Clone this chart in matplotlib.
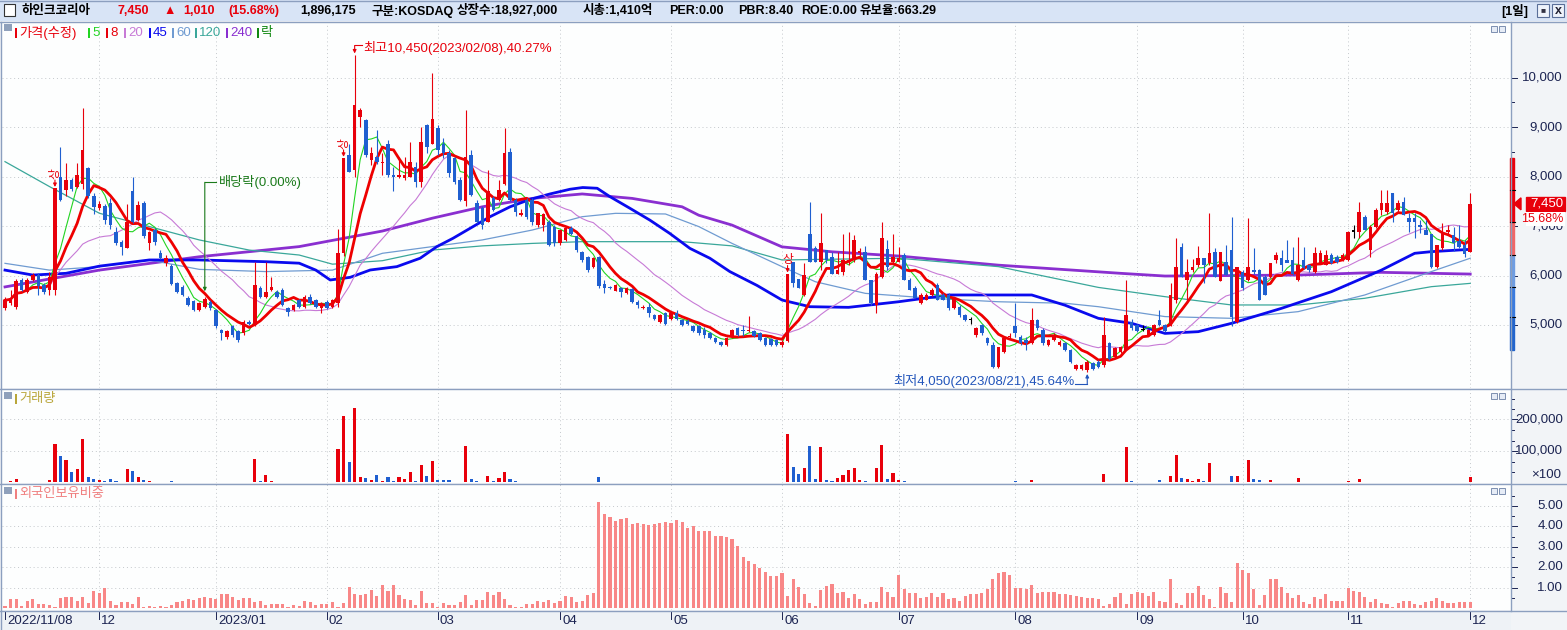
import numpy as np
import pandas as pd
import matplotlib
matplotlib.use("Agg")
import matplotlib.pyplot as plt
import matplotlib.transforms as mtransforms
from matplotlib.patches import Rectangle, Polygon
from matplotlib.lines import Line2D

plt.rcParams['font.family'] = ['Liberation Sans', 'Noto Sans CJK KR', 'DejaVu Sans']

# ---- daily candles, 2022/11/08 .. 2023/12/01 ----
opens = [
    5340, 5440, 5370, 5900, 5670, 5910, 6010, 5810, 5710, 5700,
    8000, 7730, 7930, 7800, 7860, 8170, 7600, 7360, 7400, 7460,
    6890, 6680, 6550, 7710, 7120, 7460, 6650, 6920, 6450, 6250,
    6200, 5840, 5770, 5540, 5490, 5300, 5370, 5460, 5300, 4900,
    4760, 4970, 4870, 4830, 5070, 5000, 5740, 5570, 5700, 5670,
    5710, 5340, 5300, 5500, 5370, 5570, 5500, 5340, 5470, 5370,
    5440, 6450, 8440, 8130, 9200, 9150, 8340, 8400, 8270, 8670,
    8030, 8000, 7970, 8000, 8200, 7900, 9040, 8670, 8980, 8670,
    8470, 8370, 7930, 7500, 8440, 7460, 7360, 7090, 7560, 7530,
    7860, 8500, 7530, 7220, 7530, 7530, 7020, 7020, 7090, 6990,
    6650, 6720, 6960, 6790, 6480, 6380, 6180, 6380, 5830, 5760,
    5690, 5740, 5640, 5730, 5470, 5340, 5370, 5200, 5070, 5240,
    5130, 5240, 5100, 5080, 4970, 4970, 4900, 4830, 4730, 4660,
    4600, 4760, 4930, 4900, 4870, 4870, 4830, 4730, 4710, 4700,
    4600, 4680, 6280, 5940, 5610, 6850, 6550, 6280, 6520, 6380,
    6040, 6080, 6280, 6310, 6450, 6480, 5910, 5400, 5980, 6530,
    6280, 6280, 6420, 5910, 5740, 5450, 5510, 5610, 5810, 5610,
    5610, 5340, 5370, 5200, 5100, 4800, 5000, 4730, 4600, 4160,
    4460, 4750, 4970, 4760, 4700, 4630, 5100, 4900, 4600, 4700,
    4600, 4630, 4490, 4120, 4120, 4100, 4230, 4260, 4190, 4630,
    4360, 4460, 4500, 5070, 5000, 4900, 4800, 4800, 5100, 5000,
    5000, 5510, 6580, 5910, 6110, 6210, 6350, 6250, 6480, 5880,
    6280, 6520, 5070, 6080, 5910, 6110, 6110, 5980, 5980, 6310,
    6350, 6310, 6310, 5910, 6310, 6210, 6080, 6250, 6210, 6420,
    6380, 6310, 6310, 6890, 6890, 7190, 6520, 6990, 7330, 7290,
    7660, 7330, 7490, 7160, 7160, 7020, 6920, 6850, 6180, 6550,
    6890, 6820, 6690, 6620, 6480,
]
highs = [
    5570, 5700, 5930, 5950, 5950, 6050, 6050, 5850, 6080, 7770,
    8600, 8270, 7980, 8270, 9380, 8200, 7660, 7500, 7450, 7560,
    6990, 6720, 7440, 8000, 7500, 7500, 6900, 6960, 6520, 6420,
    6230, 5870, 5800, 5580, 5510, 5460, 5560, 5500, 5320, 4920,
    4900, 5000, 4890, 5100, 5100, 6280, 5780, 6280, 5970, 5700,
    5740, 5360, 5420, 5520, 5600, 5620, 5520, 5460, 5500, 5520,
    6950, 8380, 8670, 10450, 9380, 9170, 8600, 8950, 8480, 8740,
    8200, 8400, 8400, 8700, 8300, 9000, 9070, 10090, 9040, 8780,
    8540, 8400, 8000, 9350, 8540, 7530, 7400, 8130, 7600, 7930,
    8980, 8570, 7560, 7350, 7560, 7560, 7260, 7260, 7120, 7020,
    6920, 6990, 7000, 6820, 6500, 6400, 6380, 6400, 5910, 5790,
    5820, 5770, 5760, 5750, 5500, 5400, 5440, 5220, 5220, 5260,
    5260, 5300, 5120, 5120, 4990, 4990, 4960, 4850, 4760, 4680,
    4760, 4920, 4960, 5000, 5180, 4900, 4850, 4750, 4730, 4720,
    4700, 6040, 6280, 5940, 6250, 7490, 6600, 7260, 6520, 6480,
    6480, 6850, 6880, 6820, 6550, 6590, 5910, 6070, 7090, 6720,
    6850, 6580, 6450, 5950, 5780, 5640, 5640, 5740, 5840, 5640,
    5640, 5570, 5400, 5230, 5170, 4960, 5030, 4760, 4660, 4560,
    4760, 4830, 5440, 4790, 4760, 5340, 5130, 4930, 4720, 4840,
    4700, 4660, 4510, 4210, 4210, 4300, 4260, 4290, 5170, 4650,
    4560, 4580, 5910, 5130, 5030, 5000, 4920, 5030, 5300, 5020,
    5840, 6750, 6650, 6330, 6330, 6600, 6350, 7260, 6550, 6480,
    6620, 7190, 6180, 6110, 7160, 6550, 6140, 6010, 6250, 6480,
    6520, 6720, 6580, 6780, 6580, 6240, 6580, 6520, 6520, 6450,
    6410, 6450, 6900, 7020, 7490, 7220, 7020, 7370, 7730, 7730,
    7660, 7530, 7590, 7260, 7260, 7120, 7120, 6850, 6620, 7060,
    7020, 6990, 7020, 6720, 7660,
]
lows = [
    5300, 5400, 5330, 5690, 5640, 5880, 5600, 5620, 5600, 5600,
    7500, 7600, 7700, 7780, 7740, 7560, 7240, 7330, 7050, 6950,
    6620, 6420, 6550, 7060, 7100, 6760, 6520, 6610, 6330, 6200,
    5800, 5640, 5580, 5380, 5280, 5280, 5350, 5300, 4940, 4700,
    4720, 4760, 4660, 4800, 5000, 4980, 5540, 5540, 5680, 5540,
    5380, 5180, 5280, 5340, 5350, 5420, 5350, 5240, 5320, 5350,
    5370, 6400, 8100, 8000, 9000, 8400, 8240, 8250, 8030, 8000,
    7700, 7980, 7940, 8000, 7800, 7800, 8470, 8670, 8440, 8370,
    8000, 7850, 7500, 7400, 7600, 7060, 6950, 7090, 7300, 7500,
    7840, 7500, 7200, 7200, 7150, 7030, 6980, 6900, 6600, 6600,
    6620, 6700, 6820, 6480, 6280, 6080, 6150, 5750, 5640, 5720,
    5680, 5570, 5630, 5450, 5340, 5330, 5170, 5110, 5050, 5010,
    5100, 5110, 4980, 5010, 4850, 4800, 4740, 4710, 4640, 4580,
    4580, 4740, 4770, 4780, 4860, 4760, 4680, 4580, 4580, 4580,
    4560, 4650, 5760, 5740, 5580, 6280, 6280, 6110, 6250, 6040,
    6030, 6010, 6210, 6280, 6400, 5910, 5400, 5240, 5950, 6110,
    6250, 6280, 5910, 5710, 5540, 5420, 5500, 5590, 5510, 5500,
    5300, 5320, 5170, 5080, 5030, 4760, 4800, 4600, 4130, 4130,
    4440, 4730, 4760, 4600, 4500, 4620, 4900, 4600, 4580, 4680,
    4580, 4470, 4240, 4080, 4100, 4050, 4090, 4140, 4150, 4290,
    4340, 4440, 4490, 4900, 4850, 4870, 4780, 4780, 4970, 4850,
    4970, 5440, 5980, 5440, 6080, 6180, 5850, 6210, 5980, 5880,
    6010, 4970, 5040, 5710, 5880, 6040, 5510, 5610, 5950, 6250,
    6100, 6280, 6010, 5880, 6130, 6080, 6060, 6250, 6210, 6230,
    6260, 6290, 6300, 6760, 6760, 6920, 6380, 6970, 7230, 7250,
    7090, 7260, 7220, 6880, 6750, 6860, 6850, 6150, 6150, 6520,
    6850, 6490, 6550, 6380, 6480,
]
closes = [
    5500, 5540, 5880, 5710, 5910, 6010, 5780, 5670, 5980, 7770,
    7530, 7930, 7760, 8030, 8540, 7600, 7390, 7450, 7120, 7020,
    6650, 6580, 7090, 7090, 7430, 6790, 6890, 6680, 6350, 6350,
    5820, 5660, 5600, 5400, 5300, 5440, 5520, 5340, 4970, 4830,
    4870, 4800, 4700, 5070, 5030, 5810, 5570, 5670, 5770, 5570,
    5400, 5270, 5400, 5370, 5570, 5440, 5370, 5440, 5340, 5500,
    6450, 8380, 8100, 9450, 9350, 8440, 8470, 8300, 8290, 8030,
    8000, 8030, 8030, 8300, 7900, 8700, 8600, 9170, 8540, 8470,
    8080, 7900, 7530, 8400, 7630, 7090, 7020, 7700, 7330, 7730,
    8470, 7530, 7290, 7260, 7190, 7090, 7260, 7250, 6620, 6650,
    6920, 6960, 6850, 6520, 6310, 6110, 6350, 5780, 5740, 5740,
    5800, 5670, 5740, 5470, 5400, 5370, 5240, 5130, 5200, 5030,
    5240, 5130, 5000, 5030, 4870, 4830, 4800, 4730, 4660, 4600,
    4730, 4900, 4800, 4870, 4900, 4780, 4700, 4600, 4600, 4600,
    4650, 6040, 5840, 5740, 6010, 6280, 6280, 6650, 6310, 6040,
    6110, 6310, 6310, 6720, 6500, 5910, 5440, 6040, 6750, 6180,
    6380, 6360, 5910, 5710, 5540, 5610, 5610, 5710, 5510, 5510,
    5340, 5540, 5200, 5100, 5100, 4930, 4830, 4630, 4160, 4560,
    4730, 4780, 4830, 4630, 4630, 5100, 4930, 4630, 4700, 4800,
    4660, 4490, 4260, 4190, 4190, 4260, 4120, 4160, 4800, 4310,
    4530, 4560, 5200, 4930, 4870, 4900, 4900, 5000, 5000, 4870,
    5610, 6180, 5980, 6080, 6180, 6350, 6210, 6450, 5980, 6480,
    6010, 5170, 6180, 5740, 6180, 6080, 5510, 5610, 6250, 6420,
    6210, 6250, 6040, 6210, 6150, 6110, 6450, 6450, 6420, 6250,
    6280, 6420, 6890, 6890, 7290, 6920, 6990, 7330, 7460, 7460,
    7260, 7460, 7220, 7090, 7090, 6990, 6820, 6180, 6620, 6890,
    6920, 6650, 6580, 6440, 7450,
]
volumes = [
    2600, 4700, 11000, 3000, 3000, 3000, 3000, 3000, 8000, 122000,
    84000, 71000, 33000, 43000, 138000, 17000, 11000, 8000, 5000, 11000,
    5000, 3000, 43000, 36000, 17000, 8000, 5000, 3000, 3000, 3000,
    5000, 3000, 3000, 3000, 3000, 3000, 3000, 3000, 3000, 3000,
    3000, 3000, 3000, 3000, 3000, 75000, 5000, 24000, 5000, 3000,
    3000, 3000, 3000, 3000, 3000, 3000, 3000, 3000, 3000, 3000,
    106000, 211000, 65000, 236000, 17000, 14000, 8000, 24000, 5000, 17000,
    5000, 17000, 11000, 33000, 5000, 55000, 20000, 68000, 8000, 8000,
    8000, 3000, 3000, 116000, 11000, 5000, 3000, 20000, 5000, 14000,
    33000, 11000, 5000, 3000, 3000, 3000, 3000, 3000, 3000, 3000,
    3000, 3000, 3000, 3000, 3000, 3000, 3000, 17000, 3000, 3000,
    3000, 3000, 3000, 3000, 3000, 3000, 3000, 3000, 3000, 3000,
    3000, 3000, 3000, 3000, 3000, 3000, 3000, 3000, 3000, 3000,
    3000, 3000, 3000, 3000, 3000, 3000, 3000, 3000, 3000, 3000,
    3000, 154000, 50000, 27000, 47000, 116000, 11000, 114000, 8000, 5000,
    14000, 24000, 40000, 46000, 8000, 5000, 3000, 46000, 119000, 11000,
    30000, 8000, 5000, 3000, 3000, 3000, 3000, 3000, 3000, 3000,
    3000, 3000, 3000, 3000, 3000, 3000, 3000, 3000, 3000, 3000,
    3000, 3000, 5000, 3000, 3000, 8000, 3000, 3000, 3000, 3000,
    3000, 3000, 3000, 3000, 3000, 3000, 3000, 3000, 27000, 3000,
    3000, 3000, 113000, 5000, 3000, 3000, 3000, 3000, 8000, 3000,
    20000, 87000, 13000, 10000, 5000, 11000, 5000, 62000, 3000, 3000,
    3000, 20000, 20000, 3000, 71000, 11000, 8000, 3000, 8000, 3000,
    3000, 3000, 3000, 14000, 3000, 3000, 3000, 3000, 3000, 3000,
    3000, 3000, 5000, 3000, 11000, 3000, 3000, 3000, 3000, 3000,
    3000, 3000, 3000, 3000, 3000, 3000, 3000, 3000, 3000, 3000,
    3000, 3000, 3000, 3000, 17000,
]
foreign_pct = [
    0.11, 0.44, 0.44, 0.11, 0.34, 0.44, 0.20, 0.20, 0.15, 0.05,
    0.50, 0.54, 0.54, 0.34, 0.54, 0.25, 0.82, 0.74, 0.98, 0.34,
    0.15, 0.29, 0.29, 0.20, 0.54, 0.05, 0.10, 0.05, 0.10, 0.05,
    0.15, 0.29, 0.34, 0.44, 0.39, 0.50, 0.54, 0.50, 0.44, 0.69,
    0.69, 0.54, 0.39, 0.50, 0.47, 0.29, 0.34, 0.15, 0.20, 0.20,
    0.20, 0.05, 0.15, 0.10, 0.34, 0.29, 0.15, 0.20, 0.20, 0.29,
    0.03, 0.25, 1.03, 0.69, 0.64, 0.69, 0.88, 0.59, 1.13, 0.83,
    1.13, 0.64, 0.44, 0.39, 0.15, 0.83, 0.25, 0.25, 0.05, 0.25,
    0.15, 0.15, 0.29, 0.64, 0.15, 0.39, 0.39, 0.77, 0.64, 0.77,
    0.44, 0.15, 0.05, 0.05, 0.20, 0.20, 0.34, 0.29, 0.39, 0.25,
    0.34, 0.59, 0.54, 0.29, 0.34, 0.64, 0.72, 5.18, 4.61, 4.46,
    4.26, 4.36, 4.41, 4.12, 4.17, 4.12, 4.07, 4.12, 4.17, 4.22,
    4.17, 4.31, 4.22, 3.92, 4.02, 3.77, 3.77, 3.77, 3.53, 3.53,
    3.48, 3.38, 3.04, 2.50, 2.30, 2.16, 1.96, 1.76, 1.57, 1.57,
    1.70, 0.59, 1.42, 1.03, 0.69, 0.25, 0.10, 0.88, 1.08, 1.18,
    0.74, 0.78, 0.49, 0.69, 0.44, 0.20, 0.29, 0.29, 1.03, 0.78,
    0.54, 1.62, 0.93, 0.74, 0.74, 0.49, 0.54, 0.74, 0.54, 0.74,
    0.44, 0.49, 0.34, 0.59, 0.69, 0.69, 0.74, 0.93, 1.42, 1.70,
    1.75, 1.62, 0.98, 0.98, 0.93, 1.13, 0.74, 0.78, 0.78, 0.78,
    0.69, 0.69, 0.64, 0.59, 0.54, 0.49, 0.47, 0.44, 0.10, 0.20,
    0.54, 0.74, 0.20, 0.69, 0.78, 0.74, 0.59, 0.78, 0.34, 0.29,
    1.42, 0.25, 0.15, 0.74, 0.74, 1.08, 0.64, 0.44, 0.05, 1.03,
    0.74, 0.29, 2.21, 1.86, 1.70, 0.93, 0.15, 0.64, 1.42, 1.42,
    1.03, 0.74, 0.49, 0.64, 0.29, 0.20, 0.54, 0.44, 0.69, 0.34,
    0.34, 0.34, 0.98, 0.83, 0.78, 0.54, 0.29, 0.44, 0.25, 0.20,
    0.05, 0.25, 0.34, 0.34, 0.20, 0.15, 0.29, 0.34, 0.49, 0.34,
    0.25, 0.25, 0.29, 0.29, 0.29,
]

# long moving averages (need history before the window), read at sample days
ma45_idx = [0, 5, 11, 17, 26, 35, 47, 53, 56, 58.6, 62.2, 65.8, 70.6, 74.8, 77.8, 80.7, 83.8,
            87.4, 91, 94.6, 98.2, 101.8, 104.1, 106.7, 109, 112.6, 116.2, 119.8, 123.4, 127,
            130.6, 135.5, 140, 145, 152, 161, 170, 185, 191, 197, 203, 209, 215, 221, 230, 239,
            248, 254, 257, 264]
ma45_val = [6110, 6010, 6045, 6190, 6315, 6315, 6280, 6250, 6110, 5910, 5964, 6112, 6180, 6350,
            6584, 6752, 6955, 7190, 7390, 7540, 7650, 7745, 7780, 7765, 7595, 7360, 7120, 6850,
            6550, 6350, 6080, 5800, 5505, 5370, 5357, 5470, 5607, 5607, 5400, 5135, 5034, 4830,
            4865, 5034, 5337, 5674, 6110, 6450, 6483, 6530]
ma60_idx = [0, 8, 17, 26, 35, 47, 59, 68, 77, 86, 95, 104, 110, 119, 125, 131, 140, 146, 155,
            167, 179, 191, 197, 209, 221, 233, 245, 257, 264]
ma60_val = [6247, 6110, 6180, 6315, 6125, 6080, 6110, 6450, 6585, 6720, 6920, 7190, 7258, 7245,
            6990, 6650, 6180, 5875, 5640, 5540, 5470, 5440, 5370, 5170, 5135, 5270, 5607, 6080,
            6350]
ma120_idx = [0, 8, 17, 26, 35, 44, 53, 59, 68, 77, 86, 95, 104, 122, 131, 140, 161, 179, 197,
             209, 221, 233, 245, 257, 264]
ma120_val = [8303, 7800, 7260, 6990, 6720, 6515, 6415, 6230, 6300, 6515, 6600, 6650, 6685, 6685,
             6600, 6315, 6350, 6180, 5760, 5573, 5405, 5405, 5540, 5775, 5842]
ma240_idx = [0, 17, 35, 53, 68, 77, 86, 95, 104, 113, 122, 125, 131, 140, 149, 161, 179, 201,
             209, 233, 248, 264]
ma240_val = [5770, 6110, 6380, 6585, 6900, 7160, 7390, 7560, 7650, 7560, 7390, 7220, 7020, 6580,
             6480, 6395, 6210, 6045, 5990, 6010, 6065, 6030]

month_idx = [0, 17, 38, 58, 78, 100, 120, 140, 161, 182, 204, 223, 242, 264]
month_labels = ["2022/11/08", "12", "2023/01", "02", "03", "04", "05", "06",
                "07", "08", "09", "10", "11", "12"]
hi_date = "2023/02/08"
lo_date = "2023/08/21"
exdiv_idx = 36
range_edges = [4500, 5170, 5775, 6415, 7090, 7730, 8380]
range_colors = ["#2264cc", "#3a7ade", "#6f9de2", "#f06666", "#e8000b", "#e8000b"]
price_ticks = [5000, 6000, 7000, 8000, 9000, 10000]
vol_ticks = [100000, 200000]
foreign_ticks = [1, 2, 3, 4, 5]

RED = "#e8000b"
BLUE = "#1f5fd0"
NAVY = "#1c2452"
GRID = "#c4c8cc"
EDGE = "#8c9fbf"
C_MA = {"5": "#22d422", "8": "#ee0000", "20": "#c77ad6", "45": "#0a0aee",
        "60": "#6f9bd1", "120": "#3aa79a", "240": "#8a2fd0"}

W, H = 1567, 630
fig = plt.figure(figsize=(W / 100, H / 100), dpi=100, facecolor="#f2f4f7")


def fx(px):
    return px / W


def fy(py):
    return 1 - py / H


X0, X1 = -0.54, 271.35


def make_panel(top, bottom, ylim):
    ax = fig.add_axes([fx(2), fy(bottom), fx(1511) - fx(2), (bottom - top) / H])
    ax.set_facecolor("#fdfefe")
    for s in ax.spines.values():
        s.set_visible(False)
    ax.set_xticks([])
    ax.set_yticks([])
    ax.set_xlim(X0, X1)
    ax.set_ylim(*ylim)
    for m in month_idx[1:]:
        ax.axvline(m, color=GRID, lw=0.7, ls=(0, (1, 3)), zorder=0)
    return ax


P_TOP, P_BOT = 22, 388
ax_p = make_panel(P_TOP, P_BOT, (3726, 11127))
ax_v = make_panel(389, 483, (-1600, 296800))
ax_f = make_panel(484, 610, (-0.1, 6.08))
dyp = (11127 - 3726) / (P_BOT - P_TOP)      # won per pixel
dxp = (X1 - X0) / (1511 - 2)                # days per pixel

o = np.array(opens)
h = np.array(highs)
l = np.array(lows)
c = np.array(closes)
x = np.arange(len(c))
cols = np.where(c > o, RED, np.where(c < o, BLUE, "black"))

# ---- price panel ----
for t in price_ticks:
    ax_p.axhline(t, color=GRID, lw=0.7, ls=(0, (1, 3)), zorder=0)

s = pd.Series(c, dtype=float)
ax_p.plot(ma240_idx, ma240_val, color=C_MA["240"], lw=2.0, zorder=2)
ax_p.plot(ma120_idx, ma120_val, color=C_MA["120"], lw=0.9, zorder=2)
ax_p.plot(ma60_idx, ma60_val, color=C_MA["60"], lw=0.9, zorder=2)
ax_p.plot(ma45_idx, ma45_val, color=C_MA["45"], lw=2.0, zorder=2)
ax_p.plot(x, s.rolling(20, min_periods=1).mean(), color=C_MA["20"], lw=0.8, zorder=2)
ax_p.plot(x, s.rolling(5, min_periods=1).mean(), color=C_MA["5"], lw=0.8, zorder=3)
ax_p.plot(x, s.rolling(8, min_periods=1).mean(), color=C_MA["8"], lw=2.0, zorder=3)

ax_p.vlines(x, l, h, colors=cols, lw=0.8, zorder=4)
body = np.maximum(np.abs(c - o), 1.2 * dyp)
ax_p.bar(x, body, bottom=np.minimum(o, c), width=0.64, color=cols, linewidth=0, zorder=5)

# limit-up marks
up = [i for i in range(1, len(c)) if c[i] >= 1.29 * c[i - 1]]
for k, i in enumerate(up):
    ax_p.text(i, h[i] + 14 * dyp, "상", color=RED, fontsize=8.5, ha="center", va="center",
              rotation=90 if k < 2 else 0, family=["Noto Sans CJK KR", "DejaVu Sans"], zorder=6)
    ax_p.annotate("", xy=(i, h[i] + 1 * dyp), xytext=(i, h[i] + 8 * dyp),
                  arrowprops=dict(arrowstyle="-|>", color=RED, lw=0.8, mutation_scale=5,
                                  shrinkA=0, shrinkB=0), zorder=6)

last = int(c[-1])
ih = int(np.argmax(h))
il = int(np.argmin(l))
hv, lv = int(h[ih]), int(l[il])
ax_p.annotate("", xy=(ih, hv + 2 * dyp), xytext=(ih, hv + 10 * dyp),
              arrowprops=dict(arrowstyle="-|>", color=RED, lw=0.8, mutation_scale=5,
                              shrinkA=0, shrinkB=0))
ax_p.plot([ih, ih + 7 * dxp], [hv + 10 * dyp, hv + 10 * dyp], color=RED, lw=0.8)
ax_p.text(ih + 9 * dxp, hv + 7 * dyp,
          f"최고{hv:,}({hi_date}),{(hv - last) / last * 100:.2f}%",
          color=RED, fontsize=9.5, ha="left", va="center")

ax_p.annotate("", xy=(il, lv - 2 * dyp), xytext=(il, lv - 12 * dyp),
              arrowprops=dict(arrowstyle="-|>", color="#2255bb", lw=0.8, mutation_scale=5,
                              shrinkA=0, shrinkB=0))
ax_p.plot([il - 12 * dxp, il], [lv - 12 * dyp, lv - 12 * dyp], color="#2255bb", lw=0.8)
ax_p.text(il - 13 * dxp, lv - 9 * dyp,
          f"최저{lv:,}({lo_date}),{(last - lv) / last * 100:.2f}%",
          color="#2255bb", fontsize=9.5, ha="right", va="center")

ex_top = h[exdiv_idx] + 115 * dyp
ax_p.annotate("", xy=(exdiv_idx, h[exdiv_idx] + 6 * dyp), xytext=(exdiv_idx, ex_top),
              arrowprops=dict(arrowstyle="-|>", color="#1a7a1a", lw=0.8, mutation_scale=5,
                              shrinkA=0, shrinkB=0))
ax_p.plot([exdiv_idx, exdiv_idx + 11 * dxp], [ex_top, ex_top], color="#1a7a1a", lw=0.8)
ax_p.text(exdiv_idx + 14 * dxp, ex_top, "배당락(0.00%)", color="#1a7a1a", fontsize=9.5,
          ha="left", va="center")

# ---- volume / foreign panels ----
for t in vol_ticks:
    ax_v.axhline(t, color=GRID, lw=0.7, ls=(0, (1, 3)), zorder=0)
ax_v.bar(x, volumes, width=0.56, color=cols, linewidth=0, zorder=3)
for t in foreign_ticks:
    ax_f.axhline(t, color=GRID, lw=0.7, ls=(0, (1, 3)), zorder=0)
ax_f.bar(x, foreign_pct, width=0.56, color="#f88787", linewidth=0, zorder=3)


# ---- right axis labels ----
def right_axis(ax, ticks, labels, minor):
    tr = mtransforms.blended_transform_factory(fig.transFigure, ax.transData)
    for t, lab in zip(ticks, labels):
        ax.text(fx(1563), t, lab, transform=tr, ha="right", va="center", fontsize=9.5,
                color=NAVY, clip_on=False)
        ax.add_line(Line2D([fx(1511), fx(1517)], [t, t], transform=tr, color=NAVY, lw=0.7,
                           clip_on=False))
    for t in minor:
        ax.add_line(Line2D([fx(1511), fx(1514)], [t, t], transform=tr, color=NAVY, lw=0.7,
                           clip_on=False))
    return tr


tr_p = right_axis(ax_p, price_ticks, [f"{t:,}" for t in price_ticks],
                  [t + 500 for t in price_ticks[:-1]] + [4500])
tr_v = right_axis(ax_v, vol_ticks, [f"{t:,}" for t in vol_ticks],
                  [33000, 66000, 133000, 166000, 233000, 266000])
ax_v.text(fx(1561), 25000, "×100", transform=tr_v, ha="right", va="center", fontsize=9.5,
          color=NAVY, clip_on=False)
right_axis(ax_f, foreign_ticks, [f"{t:.2f}" for t in foreign_ticks],
           [0.5, 1.5, 2.5, 3.5, 4.5, 5.5])

# price range bar on the axis + current price tag
for lo_, hi_, col_ in zip(range_edges[:-1], range_edges[1:], range_colors):
    ax_p.add_patch(Rectangle((fx(1510), lo_), fx(4), hi_ - lo_, transform=tr_p, color=col_,
                             clip_on=False, zorder=6))
for e in range_edges[1:-1]:
    ax_p.add_line(Line2D([fx(1510), fx(1515)], [e, e], transform=tr_p, color="black", lw=0.8,
                         clip_on=False, zorder=7))
pct = (c[-1] - c[-2]) / c[-2] * 100
ax_p.add_patch(Polygon([[fx(1514), last], [fx(1521), last + 6 * dyp], [fx(1521), last - 6 * dyp]],
                       closed=True, transform=tr_p, color=RED, clip_on=False, zorder=8))
ax_p.add_patch(Rectangle((fx(1526), last - 7 * dyp), fx(39), 14 * dyp, transform=tr_p, color=RED,
                         clip_on=False, zorder=8))
ax_p.text(fx(1563), last, f"{last:,}", transform=tr_p, ha="right", va="center", fontsize=9.5,
          color="white", clip_on=False, zorder=9)
ax_p.add_patch(Rectangle((fx(1526), last - 22 * dyp), fx(39), 14 * dyp, transform=tr_p,
                         facecolor="white", edgecolor="none", clip_on=False, zorder=8))
ax_p.text(fx(1563), last - 15 * dyp, f"{pct:.2f}%", transform=tr_p, ha="right", va="center",
          fontsize=9, color=RED, clip_on=False, zorder=9)


# ---- frame, header, legends ----
def fig_rect(x, y, w, hgt, z=1, **kw):
    fig.add_artist(Rectangle((fx(x), fy(y + hgt)), w / W, hgt / H, transform=fig.transFigure,
                             zorder=z, **kw))


def fig_line(x0, y0, x1, y1, **kw):
    fig.add_artist(Line2D([fx(x0), fx(x1)], [fy(y0), fy(y1)], transform=fig.transFigure, **kw))


fig_rect(0, 0, W, 21, z=-2, facecolor="#d8e4f6", edgecolor="none")
fig_rect(0, 611, 1511, 19, z=-2, facecolor="#eef2f6", edgecolor="none")
for yy in (21.5, 388.5, 483.5, 610.5):
    fig_line(0, yy, W, yy, color=EDGE, lw=1.0)
fig_line(0, 0.5, W, 0.5, color=EDGE, lw=1.0)
fig_line(1511, 21.5, 1511, 610.5, color=EDGE, lw=1.0)
fig_line(0.5, 21.5, 0.5, 630, color=EDGE, lw=1.0)

fig_rect(4, 4, 11, 12, facecolor="white", edgecolor="#333333", lw=0.8)
header = [("하인크코리아", 22, "black"), ("7,450", 118, RED), ("▲", 163, RED), ("1,010", 183, RED),
          ("(15.68%)", 228, RED), ("1,896,175", 300, "black"), ("구분:KOSDAQ", 371, "black"),
          ("상장수:18,927,000", 457, "black"), ("시총:1,410억", 583, "black"),
          ("PER:0.00", 669, "black"), ("PBR:8.40", 738, "black"), ("ROE:0.00", 801, "black"),
          ("유보율:663.29", 860, "black"), ("[1일]", 1501, "black")]
for txt, xp, col_ in header:
    fig.text(fx(xp), fy(11), txt, color=col_, fontsize=9, fontweight="bold",
             ha="left", va="center")
for xp in (1537, 1552):
    fig_rect(xp, 4, 12, 13, facecolor="#eef3fb", edgecolor="#5a6f99", lw=0.8)
fig.text(fx(1543), fy(10.5), "■", fontsize=6, color="#334", ha="center", va="center")
fig.text(fx(1558), fy(10.5), "x", fontsize=9, fontweight="bold", color="#223", ha="center",
         va="center")

for yy in (24, 392, 487):
    fig_rect(4, yy, 8, 7, facecolor="#8fa0bb", edgecolor="none")
for yy in (26, 393, 488):
    for xp in (1491, 1499):
        fig_rect(xp, yy, 6, 6, facecolor="#e6ecf6", edgecolor="#7d8fb0", lw=0.7)

legend = [("가격(수정)", RED, 15), ("5", C_MA["5"], 88), ("8", RED, 106), ("20", C_MA["20"], 124),
          ("45", C_MA["45"], 149), ("60", C_MA["60"], 172), ("120", C_MA["120"], 195),
          ("240", C_MA["240"], 226), ("락", "#118811", 257)]
for txt, col_, xp in legend:
    fig_rect(xp, 28, 2, 10, facecolor=col_, edgecolor="none")
    fig.text(fx(xp + 4), fy(33), txt, color=col_, fontsize=9.5, ha="left", va="center")
fig_rect(15, 394, 2, 10, facecolor="#b9a63a", edgecolor="none")
fig.text(fx(19), fy(399), "거래량", color="#b9a63a", fontsize=9.5, ha="left", va="center")
fig_rect(15, 489, 2, 10, facecolor="#f08080", edgecolor="none")
fig.text(fx(19), fy(494), "외국인보유비중", color="#f08080", fontsize=9.5, ha="left", va="center")

# x axis month labels
tr_x = mtransforms.blended_transform_factory(ax_f.transData, fig.transFigure)
for m, lab in zip(month_idx, month_labels):
    ax_f.add_line(Line2D([m, m], [fy(611), fy(619)], transform=tr_x, color=NAVY, lw=0.7,
                         clip_on=False))
    ax_f.text(m + 2 * dxp, fy(621), lab, transform=tr_x, ha="left", va="center", fontsize=9.5,
              color=NAVY, clip_on=False)

fig.savefig("out.png", dpi=100, facecolor=fig.get_facecolor())
